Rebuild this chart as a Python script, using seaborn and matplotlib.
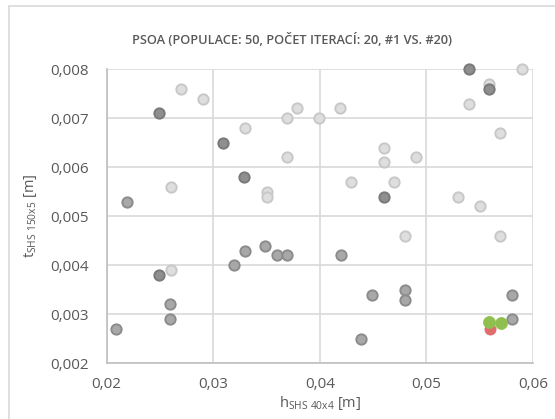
import numpy as np
import pandas as pd
import matplotlib
matplotlib.use("Agg")
import matplotlib.pyplot as plt
import seaborn as sns
from matplotlib.patches import Rectangle

# data
light_x = [0.0270, 0.0290, 0.0260, 0.0260, 0.0330, 0.0350, 0.0350, 0.0369, 0.0379,
           0.0399, 0.0419, 0.0369, 0.0429, 0.0460, 0.0460, 0.0490, 0.0470, 0.0480,
           0.0530, 0.0550, 0.0569, 0.0569, 0.0540, 0.0559, 0.0590]
light_y = [0.0076, 0.0074, 0.0056, 0.0039, 0.0068, 0.0055, 0.0054, 0.0070, 0.0072,
           0.0070, 0.0072, 0.0062, 0.0057, 0.0064, 0.0061, 0.0062, 0.0057, 0.0046,
           0.0054, 0.0052, 0.0046, 0.0067, 0.0073, 0.0077, 0.0080]

mid_x = [0.0219, 0.0209, 0.0259, 0.0259, 0.0319, 0.0330, 0.0349, 0.0360, 0.0369,
         0.0420, 0.0449, 0.0439, 0.0480, 0.0480, 0.0580, 0.0580]
mid_y = [0.0053, 0.0027, 0.0032, 0.0029, 0.0040, 0.0043, 0.0044, 0.0042, 0.0042,
         0.0042, 0.0034, 0.0025, 0.0035, 0.0033, 0.0034, 0.0029]

dark_x = [0.0249, 0.0309, 0.0329, 0.0460, 0.0540, 0.0559, 0.0249]
dark_y = [0.0071, 0.0065, 0.0058, 0.0054, 0.0080, 0.0076, 0.0038]

red_x = [0.0560]
red_y = [0.00271]
green_x = [0.0559, 0.0570]
green_y = [0.00284, 0.00283]

x_ticks = [0.02, 0.03, 0.04, 0.05, 0.06]
y_ticks = [0.002, 0.003, 0.004, 0.005, 0.006, 0.007, 0.008]

sns.set_style("white")
plt.rcParams['font.family'] = ['Open Sans', 'DejaVu Sans']
plt.rcParams['mathtext.fontset'] = 'custom'
plt.rcParams['mathtext.rm'] = 'Open Sans'
plt.rcParams['mathtext.it'] = 'Open Sans'

fig = plt.figure(figsize=(5.55, 4.19), dpi=100)
ax = fig.add_axes([106.7 / 555, 1 - 363.3 / 419, (533 - 106.7) / 555, (363.3 - 69.3) / 419])

# chart area border
fig.patches.append(Rectangle((9 / 555, -0.05), 1.1, 1.05 - 6 / 419, transform=fig.transFigure,
                             fill=False, edgecolor='#d9d9d9', linewidth=1.2, zorder=0))

kw = dict(ax=ax, clip_on=False)
sns.scatterplot(x=light_x, y=light_y, s=55, color='#dedede', edgecolor='#c8c8c8',
                linewidth=1.4, zorder=3, **kw)
sns.scatterplot(x=mid_x, y=mid_y, s=55, color='#a8a8a8', edgecolor='#8c8c8c',
                linewidth=1.4, zorder=4, **kw)
sns.scatterplot(x=dark_x, y=dark_y, s=55, color='#8f8f8f', edgecolor='#7a7a7a',
                linewidth=1.4, zorder=4, **kw)
sns.scatterplot(x=red_x, y=red_y, s=65, color='#e06c6c', edgecolor='#e06c6c',
                linewidth=0.5, zorder=5, **kw)
sns.scatterplot(x=green_x, y=green_y, s=75, color='#8fbf4f', edgecolor='#8fbf4f',
                linewidth=0.5, zorder=6, **kw)

ax.set_xlim(0.02, 0.06)
ax.set_ylim(0.002, 0.008)
ax.set_xticks(x_ticks)
ax.set_yticks(y_ticks)
ax.set_xticklabels([f"{v:.2f}".replace('.', ',') for v in x_ticks])
ax.set_yticklabels([f"{v:.3f}".replace('.', ',') for v in y_ticks])
ax.tick_params(colors='#595959', labelsize=11, length=0)
ax.tick_params(axis='y', pad=13)
ax.tick_params(axis='x', pad=10)
ax.grid(True, color='#d9d9d9', linewidth=1.2)
ax.set_axisbelow(True)
for side in ['top', 'right']:
    ax.spines[side].set_visible(False)
for side in ['left', 'bottom']:
    ax.spines[side].set_color('#bfbfbf')
    ax.spines[side].set_linewidth(1.2)

ax.set_xlabel(r"h$_{\mathrm{SHS\ 40x4}}$ [m]", color='#595959', fontsize=10.5, labelpad=1)
ax.set_ylabel(r"t$_{\mathrm{SHS\ 150x5}}$ [m]", color='#595959', fontsize=10.5, labelpad=8)

fig.text(292 / 555, 1 - 40 / 419, "PSOA (POPULACE: 50, POČET ITERACÍ: 20, #1 VS. #20)",
         ha='center', va='center', color='#595959', fontsize=9.2, fontweight='semibold')

fig.savefig("out.png", dpi=100)
